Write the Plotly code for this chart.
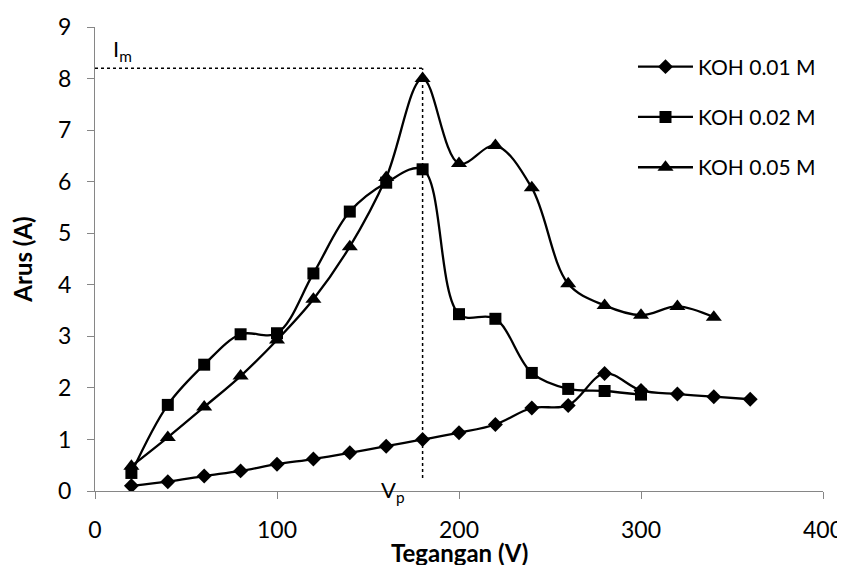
import plotly.graph_objects as go

# ---- data ----
volt_001 = [20, 40, 60, 80, 100, 120, 140, 160, 180, 200, 220, 240, 260, 280, 300, 320, 340, 360]
koh_001 = [0.10, 0.18, 0.29, 0.39, 0.52, 0.62, 0.74, 0.87, 1.00, 1.13, 1.29, 1.61, 1.66, 2.28, 1.95, 1.88, 1.83, 1.78]

volt_002 = [20, 40, 60, 80, 100, 120, 140, 160, 180, 200, 220, 240, 260, 280, 300]
koh_002 = [0.35, 1.67, 2.45, 3.04, 3.06, 4.22, 5.42, 5.98, 6.24, 3.43, 3.34, 2.29, 1.98, 1.94, 1.87]

volt_005 = [20, 40, 60, 80, 100, 120, 140, 160, 180, 200, 220, 240, 260, 280, 300, 320, 340]
koh_005 = [0.48, 1.04, 1.63, 2.23, 2.93, 3.72, 4.74, 6.08, 8.00, 6.35, 6.70, 5.88, 4.02, 3.60, 3.41, 3.58, 3.37]

series_names = ["KOH 0.01 M", "KOH 0.02 M", "KOH 0.05 M"]
im_level = 8.2          # level of the I_m guide line
vp_bottom = 0.25        # lower end of the V_p guide line
x_ticks = [0, 100, 200, 300, 400]
y_ticks = [0, 1, 2, 3, 4, 5, 6, 7, 8, 9]

# peak voltage from data
vp = volt_005[koh_005.index(max(koh_005))]

FONT = "Lato"

fig = go.Figure()
specs = [
    (volt_001, koh_001, "diamond", 11.5),
    (volt_002, koh_002, "square", 12),
    (volt_005, koh_005, "triangle-up", 14),
]
for (xs, ys, sym, sz), name in zip(specs, series_names):
    fig.add_trace(go.Scatter(
        x=xs, y=ys, name=name, mode="lines+markers",
        line=dict(color="black", width=2.3, shape="spline", smoothing=1),
        marker=dict(symbol=sym, size=sz, color="black"),
        legendgroup=name,
    ))

# guide lines for I_m and V_p
fig.add_shape(type="line", x0=0, x1=vp, y0=im_level, y1=im_level, xref="x", yref="y",
              line=dict(color="black", width=1.5, dash="dot"))
fig.add_shape(type="line", x0=vp, x1=vp, y0=vp_bottom, y1=im_level, xref="x", yref="y",
              line=dict(color="black", width=1.5, dash="dot"))

fig.add_annotation(x=15, y=8.55, xref="x", yref="y", text="I<sub>m</sub>", showarrow=False,
                   font=dict(family=FONT, size=22, color="black"))
fig.add_annotation(x=164, y=0.0, xref="x", yref="paper", text="V<sub>p</sub>", showarrow=False,
                   yanchor="middle", font=dict(family=FONT, size=22, color="black"))
fig.add_annotation(x=0.5, y=-0.132, xref="paper", yref="paper", text="<b>Tegangan (V)</b>",
                   showarrow=False, yanchor="middle",
                   font=dict(family=FONT, size=24, color="black"))

axis_common = dict(
    showline=True, linecolor="#868686", linewidth=1.3,
    ticks="outside", tickcolor="#868686", ticklen=7, tickwidth=1.3,
    showgrid=False, zeroline=False, automargin=False,
    ticklabeloverflow="allow",
    tickfont=dict(family=FONT, size=23, color="black"),
)

# page body has an 8px margin, so the figure is sized/placed to compensate
fig.update_layout(
    width=837, height=557,
    paper_bgcolor="white", plot_bgcolor="white",
    margin=dict(l=87, r=22, t=19, b=74),
    xaxis=dict(range=[0, 400], tickvals=x_ticks, ticklabelstandoff=11, **axis_common),
    yaxis=dict(range=[0, 9], tickvals=y_ticks, ticklabelstandoff=11,
               title=dict(text="<b>Arus (A)</b>", font=dict(family=FONT, size=24, color="black"),
                          standoff=20),
               **axis_common),
    legend=dict(x=0.739, y=0.958, xanchor="left", yanchor="top",
                font=dict(family=FONT, size=21, color="black"),
                bgcolor="rgba(0,0,0,0)", traceorder="grouped", tracegroupgap=20,
                itemwidth=55),
    showlegend=True,
)

fig.write_html("out.html")
